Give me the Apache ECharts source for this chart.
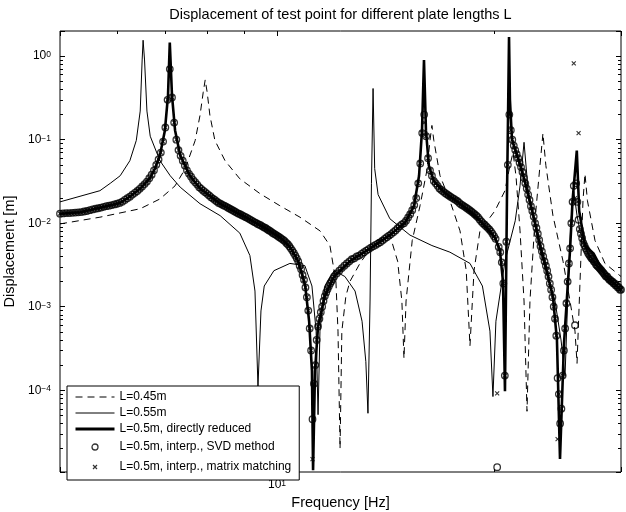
<!DOCTYPE html>
<html><head><meta charset="utf-8">
<script src="https://cdn.jsdelivr.net/npm/echarts@6/dist/echarts.min.js"></script>
<style>html,body{margin:0;padding:0;background:#fff}#c{width:626px;height:512px}</style>
</head><body><div id="c"></div>
<script>
const titleText = 'Displacement of test point for different plate lengths L';
const xName = 'Frequency [Hz]';
const yName = 'Displacement [m]';
const seriesNames = ['L=0.45m', 'L=0.55m', 'L=0.5m, directly reduced', 'L=0.5m, interp., SVD method', 'L=0.5m, interp., matrix matching'];

// [frequency Hz, displacement m]
const dashed045 = [[5.00,0.0098],[5.68,0.0118],[6.46,0.0149],[6.88,0.0195],[7.22,0.028],[7.46,0.045],[7.70,0.098],[7.82,0.196],[7.90,0.37],[7.95,0.52],[8.00,0.37],[8.07,0.196],[8.20,0.098],[8.47,0.056],[8.88,0.034],[9.47,0.0226],[10.09,0.0162],[10.76,0.0118],[11.47,0.0081],[11.84,0.0054],[12.07,0.0020],[12.15,0.00051],[12.23,0.000020],[12.30,0.00051],[12.46,0.00134],[12.62,0.0020],[13.03,0.0033],[13.72,0.0062],[14.34,0.0072],[14.70,0.0035],[14.90,0.00117],[15.00,0.00024],[15.10,0.00117],[15.40,0.0062],[15.79,0.0162],[16.14,0.043],[16.30,0.098],[16.40,0.148],[16.50,0.098],[16.83,0.037],[17.37,0.0186],[17.94,0.0081],[18.30,0.0027],[18.52,0.00034],[18.76,0.0027],[19.12,0.0081],[20.06,0.0141],[20.71,0.0245],[21.04,0.049],[21.25,0.070],[21.45,0.037],[21.73,0.0081],[22.01,0.00117],[22.22,0.000056],[22.43,0.00117],[22.79,0.0107],[23.16,0.049],[23.38,0.119],[23.60,0.049],[24.14,0.0123],[24.93,0.0035],[25.49,0.00117],[25.90,0.00051],[26.07,0.00021],[26.32,0.0020],[26.57,0.0186],[26.74,0.039],[26.95,0.0186],[27.61,0.0062],[28.50,0.0033],[30.00,0.0023]];

const thin055 = [[5.00,0.0180],[5.33,0.0210],[5.68,0.0245],[5.87,0.030],[6.06,0.037],[6.25,0.056],[6.38,0.098],[6.46,0.22],[6.50,0.9],[6.52,1.55],[6.55,0.9],[6.60,0.22],[6.67,0.11],[6.88,0.056],[7.11,0.037],[7.34,0.027],[7.82,0.0171],[8.34,0.0123],[8.88,0.0076],[9.17,0.0041],[9.32,0.00154],[9.41,0.000111],[9.50,0.00089],[9.60,0.00177],[9.90,0.0027],[10.42,0.0033],[10.93,0.0031],[11.18,0.00177],[11.33,0.00051],[11.40,0.000051],[11.47,0.00051],[11.65,0.00177],[12.00,0.0027],[12.42,0.0023],[12.83,0.00154],[13.12,0.00067],[13.28,0.00022],[13.37,0.000053],[13.46,0.00117],[13.52,0.03],[13.59,0.41],[13.66,0.045],[13.81,0.022],[14.34,0.0113],[15.29,0.0072],[16.40,0.0054],[17.37,0.0045],[18.52,0.0033],[19.27,0.00177],[19.74,0.00051],[19.93,0.000084],[20.12,0.00067],[20.71,0.0035],[21.40,0.0107],[21.73,0.028],[22.01,0.093],[22.30,0.0245],[23.16,0.0047],[24.30,0.00117],[24.77,0.00040],[25.09,0.000147],[25.30,0.00117],[25.57,0.0107],[25.80,0.024],[26.07,0.0123],[26.32,0.0081],[27.17,0.0037],[30.00,0.00150]];

const direct05 = [[5.00,0.0130],[5.33,0.0135],[5.68,0.0153],[6.06,0.0175],[6.25,0.0208],[6.46,0.026],[6.67,0.035],[6.77,0.045],[6.88,0.065],[6.99,0.129],[7.06,0.34],[7.10,1.45],[7.15,0.34],[7.22,0.13],[7.34,0.065],[7.57,0.037],[7.82,0.026],[8.34,0.0171],[8.88,0.0128],[9.47,0.0095],[10.09,0.0068],[10.42,0.0052],[10.70,0.0035],[10.94,0.0018],[11.08,0.00067],[11.18,0.00017],[11.22,0.000011],[11.29,0.00017],[11.40,0.00058],[11.65,0.00134],[12.00,0.0023],[12.62,0.0035],[13.46,0.0050],[14.34,0.0072],[15.05,0.0101],[15.49,0.0162],[15.74,0.037],[15.89,0.13],[15.99,0.9],[16.09,0.13],[16.24,0.049],[16.50,0.032],[17.10,0.023],[17.94,0.0171],[19.12,0.0107],[20.06,0.0067],[20.38,0.0047],[20.58,0.0020],[20.71,0.000097],[20.84,0.0186],[20.91,0.17],[20.98,1.7],[21.04,0.30],[21.18,0.10],[21.59,0.060],[21.73,0.050],[22.00,0.035],[22.43,0.018],[22.80,0.010],[23.16,0.0055],[23.53,0.0033],[24.14,0.0013],[24.45,0.00040],[24.69,0.000015],[25.00,0.00035],[25.49,0.0047],[25.70,0.0186],[26.05,0.074],[26.25,0.014],[26.74,0.0054],[27.50,0.0043],[28.50,0.0024],[30.00,0.0016]];

const svd05 = [[5.00,0.0130],[5.05,0.0131],[5.10,0.0132],[5.15,0.0132],[5.20,0.0133],[5.25,0.0134],[5.30,0.0135],[5.35,0.0136],[5.40,0.0138],[5.45,0.0140],[5.50,0.0143],[5.55,0.0146],[5.60,0.0149],[5.65,0.0151],[5.70,0.0154],[5.75,0.0157],[5.80,0.0160],[5.85,0.0162],[5.90,0.0165],[5.95,0.0168],[6.00,0.0171],[6.05,0.0175],[6.10,0.0181],[6.15,0.0190],[6.20,0.0199],[6.25,0.0208],[6.30,0.0220],[6.35,0.0231],[6.40,0.0243],[6.45,0.0258],[6.50,0.0275],[6.55,0.0294],[6.60,0.0315],[6.65,0.0345],[6.70,0.0380],[6.75,0.0430],[6.80,0.050],[6.85,0.058],[6.90,0.070],[6.95,0.095],[7.00,0.140],[7.05,0.30],[7.10,0.70],[7.15,0.32],[7.20,0.16],[7.25,0.10],[7.30,0.075],[7.35,0.064],[7.40,0.056],[7.45,0.049],[7.50,0.043],[7.55,0.039],[7.60,0.036],[7.65,0.033],[7.70,0.031],[7.75,0.029],[7.80,0.027],[7.85,0.0258],[7.90,0.0245],[7.95,0.0235],[8.00,0.0225],[8.05,0.0215],[8.10,0.0205],[8.15,0.0197],[8.20,0.0190],[8.25,0.0182],[8.30,0.0175],[8.35,0.0171],[8.40,0.0166],[8.45,0.0162],[8.50,0.0158],[8.55,0.0153],[8.60,0.0149],[8.65,0.0145],[8.70,0.0141],[8.75,0.0137],[8.80,0.0133],[8.85,0.0130],[8.90,0.0127],[8.95,0.0124],[9.00,0.0121],[9.05,0.0118],[9.10,0.0115],[9.15,0.0112],[9.20,0.0109],[9.25,0.0106],[9.30,0.0103],[9.35,0.0101],[9.40,0.0098],[9.45,0.0096],[9.50,0.0094],[9.55,0.0091],[9.60,0.0089],[9.65,0.0087],[9.70,0.0084],[9.75,0.0082],[9.80,0.0080],[9.85,0.0077],[9.90,0.0075],[9.95,0.0073],[10.00,0.0071],[10.05,0.0069],[10.10,0.0067],[10.15,0.0065],[10.20,0.0063],[10.25,0.0061],[10.30,0.0058],[10.35,0.0056],[10.40,0.0053],[10.45,0.0050],[10.50,0.0047],[10.55,0.0044],[10.60,0.0041],[10.65,0.0038],[10.70,0.0035],[10.75,0.0031],[10.80,0.0028],[10.85,0.0024],[10.90,0.0021],[10.95,0.0017],[11.00,0.0013],[11.05,0.00090],[11.10,0.00055],[11.15,0.00030],[11.20,0.000045],[11.25,0.00012],[11.30,0.00020],[11.35,0.00040],[11.40,0.00058],[11.45,0.00072],[11.50,0.00086],[11.55,0.00100],[11.60,0.00117],[11.65,0.00134],[11.70,0.00148],[11.75,0.00162],[11.80,0.00176],[11.85,0.00190],[11.90,0.00202],[11.95,0.00215],[12.00,0.0023],[12.1,0.0025],[12.2,0.0027],[12.3,0.0029],[12.4,0.0031],[12.5,0.0033],[12.6,0.0035],[12.7,0.0037],[12.8,0.0038],[12.9,0.0040],[13.0,0.0041],[13.1,0.0043],[13.2,0.0045],[13.3,0.0047],[13.4,0.0049],[13.5,0.0051],[13.6,0.0053],[13.7,0.0055],[13.8,0.0057],[13.9,0.0059],[14.0,0.0062],[14.1,0.0065],[14.2,0.0068],[14.3,0.0071],[14.4,0.0074],[14.5,0.0078],[14.6,0.0082],[14.7,0.0087],[14.8,0.0092],[14.9,0.0097],[15.0,0.0100],[15.1,0.0107],[15.2,0.0117],[15.3,0.0128],[15.4,0.0143],[15.5,0.0165],[15.6,0.020],[15.7,0.030],[15.8,0.052],[15.9,0.12],[16.0,0.20],[16.1,0.11],[16.2,0.060],[16.3,0.043],[16.4,0.037],[16.5,0.032],[16.6,0.030],[16.7,0.028],[16.8,0.026],[16.9,0.025],[17.0,0.024],[17.1,0.023],[17.2,0.0222],[17.3,0.0215],[17.4,0.0208],[17.5,0.0201],[17.6,0.0195],[17.7,0.0189],[17.8,0.0183],[17.9,0.0175],[18.0,0.0168],[18.1,0.0163],[18.2,0.0158],[18.3,0.0153],[18.4,0.0148],[18.5,0.0143],[18.6,0.0138],[18.7,0.0133],[18.8,0.0128],[18.9,0.0123],[19.0,0.0118],[19.1,0.0111],[19.2,0.0105],[19.3,0.0100],[19.4,0.0096],[19.5,0.0092],[19.6,0.0088],[19.7,0.0084],[19.8,0.0080],[19.9,0.0075],[20.0,0.0070],[20.1,0.0065],[20.2,0.000012],[20.3,0.0052],[20.4,0.0045],[20.5,0.0034],[20.6,0.0019],[20.7,0.00015],[20.8,0.0060],[20.9,0.050],[21.0,0.20],[21.1,0.13],[21.2,0.10],[21.3,0.085],[21.4,0.075],[21.5,0.067],[21.6,0.060],[21.7,0.053],[21.8,0.047],[21.9,0.041],[22.0,0.035],[22.1,0.030],[22.2,0.026],[22.3,0.022],[22.4,0.019],[22.5,0.016],[22.6,0.014],[22.7,0.012],[22.8,0.010],[22.9,0.0088],[23.0,0.0075],[23.1,0.0063],[23.2,0.0053],[23.3,0.0046],[23.4,0.0040],[23.5,0.0035],[23.6,0.0031],[23.7,0.0027],[23.8,0.0023],[23.9,0.0019],[24.0,0.0016],[24.1,0.0013],[24.2,0.0010],[24.3,0.00072],[24.4,0.00045],[24.5,0.00014],[24.6,0.00009],[24.7,0.000040],[24.8,0.000060],[24.9,0.00015],[25.0,0.00030],[25.1,0.00055],[25.2,0.0011],[25.3,0.0020],[25.4,0.0033],[25.5,0.0050],[25.6,0.010],[25.7,0.018],[25.8,0.028],[25.9,0.0006],[26.0,0.030],[26.1,0.018],[26.2,0.011],[26.3,0.0085],[26.4,0.0075],[26.5,0.0066],[26.6,0.0058],[26.7,0.0054],[26.8,0.0050],[26.9,0.0047],[27.0,0.0044],[27.1,0.0042],[27.2,0.0040],[27.3,0.0038],[27.4,0.0037],[27.5,0.0035],[27.6,0.0034],[27.7,0.0032],[27.8,0.0031],[27.9,0.0030],[28.0,0.0029],[28.1,0.0028],[28.2,0.0027],[28.3,0.0026],[28.4,0.0025],[28.5,0.0024],[28.6,0.0023],[28.7,0.0023],[28.8,0.0022],[28.9,0.0021],[29.0,0.0021],[29.1,0.0020],[29.2,0.0020],[29.3,0.0019],[29.4,0.0019],[29.5,0.0018],[29.6,0.0018],[29.7,0.0017],[29.8,0.0017],[29.9,0.0016],[30.0,0.0016]];

// matrix-matching markers coincide with the SVD markers except at these readings
const matchDeviations = [[11.20,0.000015],[16.0,0.16],[20.2,0.000092],[24.5,0.000026],[25.8,0.82],[25.9,0.020],[26.2,0.12]];
const match05 = svd05.map(p => {
  const d = matchDeviations.find(q => Math.abs(q[0] - p[0]) < 1e-9);
  return [p[0], d ? d[1] : p[1]];
});

const xRange = [5, 30];
const yRange = [1.05e-5, 2];
const xLabelTicks = [10];
const xMinorTicks = [6, 7, 8, 9, 20];
const yLabelTicks = [1e-4, 1e-3, 1e-2, 1e-1, 1];
const yMinorMultipliers = [2, 3, 4, 5, 6, 7, 8, 9];
const yDecades = [1e-5, 1e-4, 1e-3, 1e-2, 1e-1];
const yMinorTicks = [];
yDecades.forEach(d => yMinorMultipliers.forEach(m => yMinorTicks.push(+(m * d).toPrecision(3))));

const FONT = '"Liberation Sans", Arial, Helvetica, sans-serif';

function supLabel(v) {
  const e = Math.round(Math.log10(v));
  return '{b|10}{e|' + (e < 0 ? '\u2212' + (-e) : String(e)) + '}';
}
const richLabel = {
  b: { fontSize: 12, fontFamily: FONT, color: '#000', lineHeight: 12, padding: [4, 0, 0, 0], verticalAlign: 'bottom' },
  e: { fontSize: 8.5, fontFamily: FONT, color: '#000', lineHeight: 9, verticalAlign: 'top' }
};

function makeAxis(kind, gridIndex, position, minorValues, labelValues) {
  const range = kind === 'x' ? xRange : yRange;
  const tick = { show: true, inside: true, length: minorValues ? 3 : 5, lineStyle: { color: '#000', width: 1 } };
  if (minorValues) tick.customValues = minorValues;
  return {
    gridIndex, type: 'log', logBase: 10, min: range[0], max: range[1], position,
    axisLine: { show: false, onZero: false },
    axisTick: tick,
    axisLabel: labelValues ? { show: true, customValues: labelValues, formatter: supLabel, rich: richLabel, margin: kind === 'x' ? 7 : 9 } : { show: false },
    splitLine: { show: false }, minorTick: { show: false }, minorSplitLine: { show: false },
    silent: true
  };
}

const xAxes = [
  makeAxis('x', 0, 'bottom', null, xLabelTicks),
  makeAxis('x', 0, 'top', null, null),
  makeAxis('x', 1, 'bottom', xMinorTicks, null),
  makeAxis('x', 1, 'top', xMinorTicks, null)
];
Object.assign(xAxes[0], { name: xName, nameLocation: 'middle', nameGap: 23, nameTextStyle: { fontSize: 14.5, fontFamily: FONT, color: '#000' } });
const yAxes = [
  makeAxis('y', 0, 'left', null, yLabelTicks),
  makeAxis('y', 0, 'right', null, null),
  makeAxis('y', 1, 'left', yMinorTicks, null),
  makeAxis('y', 1, 'right', yMinorTicks, null)
];
Object.assign(yAxes[0], { name: yName, nameLocation: 'middle', nameGap: 31, nameTextStyle: { fontSize: 14.5, fontFamily: FONT, color: '#000' } });

const gridRect = { left: 60, right: 5, top: 31, bottom: 40, containLabel: false, outerBoundsMode: 'none' };

const lineBase = { type: 'line', xAxisIndex: 0, yAxisIndex: 0, symbol: 'none', showSymbol: false, silent: true, emphasis: { disabled: true }, animation: false };
const hiddenSymbol = { opacity: 0, color: 'none', borderWidth: 0 };

const option = {
  animation: false,
  backgroundColor: '#fff',
  textStyle: { fontFamily: FONT },
  grid: [
    Object.assign({ show: true, borderColor: '#000', borderWidth: 1, backgroundColor: 'transparent' }, gridRect),
    Object.assign({}, gridRect)
  ],
  xAxis: xAxes,
  yAxis: yAxes,
  graphic: [{
    type: 'text', x: 340.5, y: 7, silent: true,
    style: { text: titleText, fontSize: 14.5, fontFamily: FONT, fill: '#000', align: 'center', verticalAlign: 'top' }
  }],
  legend: {
    orient: 'vertical', left: 67, top: 386, selectedMode: false,
    padding: [5, 8, 5, 6], itemGap: 4, itemWidth: 39, itemHeight: 11,
    borderColor: '#000', borderWidth: 1, borderRadius: 0, backgroundColor: '#fff',
    textStyle: { fontSize: 12, fontFamily: FONT, color: '#000' },
    data: [
      { name: seriesNames[0], lineStyle: { width: 1, type: [7, 5], color: '#000' }, itemStyle: hiddenSymbol },
      { name: seriesNames[1], lineStyle: { width: 1, type: 'solid', color: '#000' }, itemStyle: hiddenSymbol },
      { name: seriesNames[2], lineStyle: { width: 3, type: 'solid', color: '#000' }, itemStyle: hiddenSymbol },
      { name: seriesNames[3], icon: 'path://M0,0M39,11M16.5,5.5A3,3,0,1,1,22.5,5.5A3,3,0,1,1,16.5,5.5Z',
        itemStyle: { color: 'none', borderColor: '#000', borderWidth: 1.3 } },
      { name: seriesNames[4], icon: 'path://M0,0M39,11M17.5,3.5L21.5,7.5M21.5,3.5L17.5,7.5',
        itemStyle: { color: 'none', borderColor: '#000', borderWidth: 1.2 } }
    ]
  },
  series: [
    Object.assign({}, lineBase, { name: seriesNames[0], data: dashed045, lineStyle: { color: '#000', width: 1, type: [7, 5] }, itemStyle: { color: '#000' } }),
    Object.assign({}, lineBase, { name: seriesNames[1], data: thin055, lineStyle: { color: '#000', width: 1 }, itemStyle: { color: '#000' } }),
    Object.assign({}, lineBase, { name: seriesNames[2], data: direct05, lineStyle: { color: '#000', width: 2.6 }, itemStyle: { color: '#000' } }),
    { type: 'scatter', name: seriesNames[3], data: svd05, xAxisIndex: 0, yAxisIndex: 0, symbol: 'circle', symbolSize: 6.5,
      itemStyle: { color: 'none', borderColor: '#000', borderWidth: 1.3 }, silent: true, emphasis: { disabled: true }, animation: false, large: false },
    { type: 'scatter', name: seriesNames[4], data: match05, xAxisIndex: 0, yAxisIndex: 0, symbol: 'path://M0,0L10,10M10,0L0,10', symbolSize: 4,
      itemStyle: { color: 'none', borderColor: '#000', borderWidth: 1.1 }, silent: true, emphasis: { disabled: true }, animation: false, large: false }
  ]
};

const chart = echarts.init(document.getElementById('c'), null, { renderer: 'canvas', width: 626, height: 512 });
chart.setOption(option);
</script>
</body></html>
